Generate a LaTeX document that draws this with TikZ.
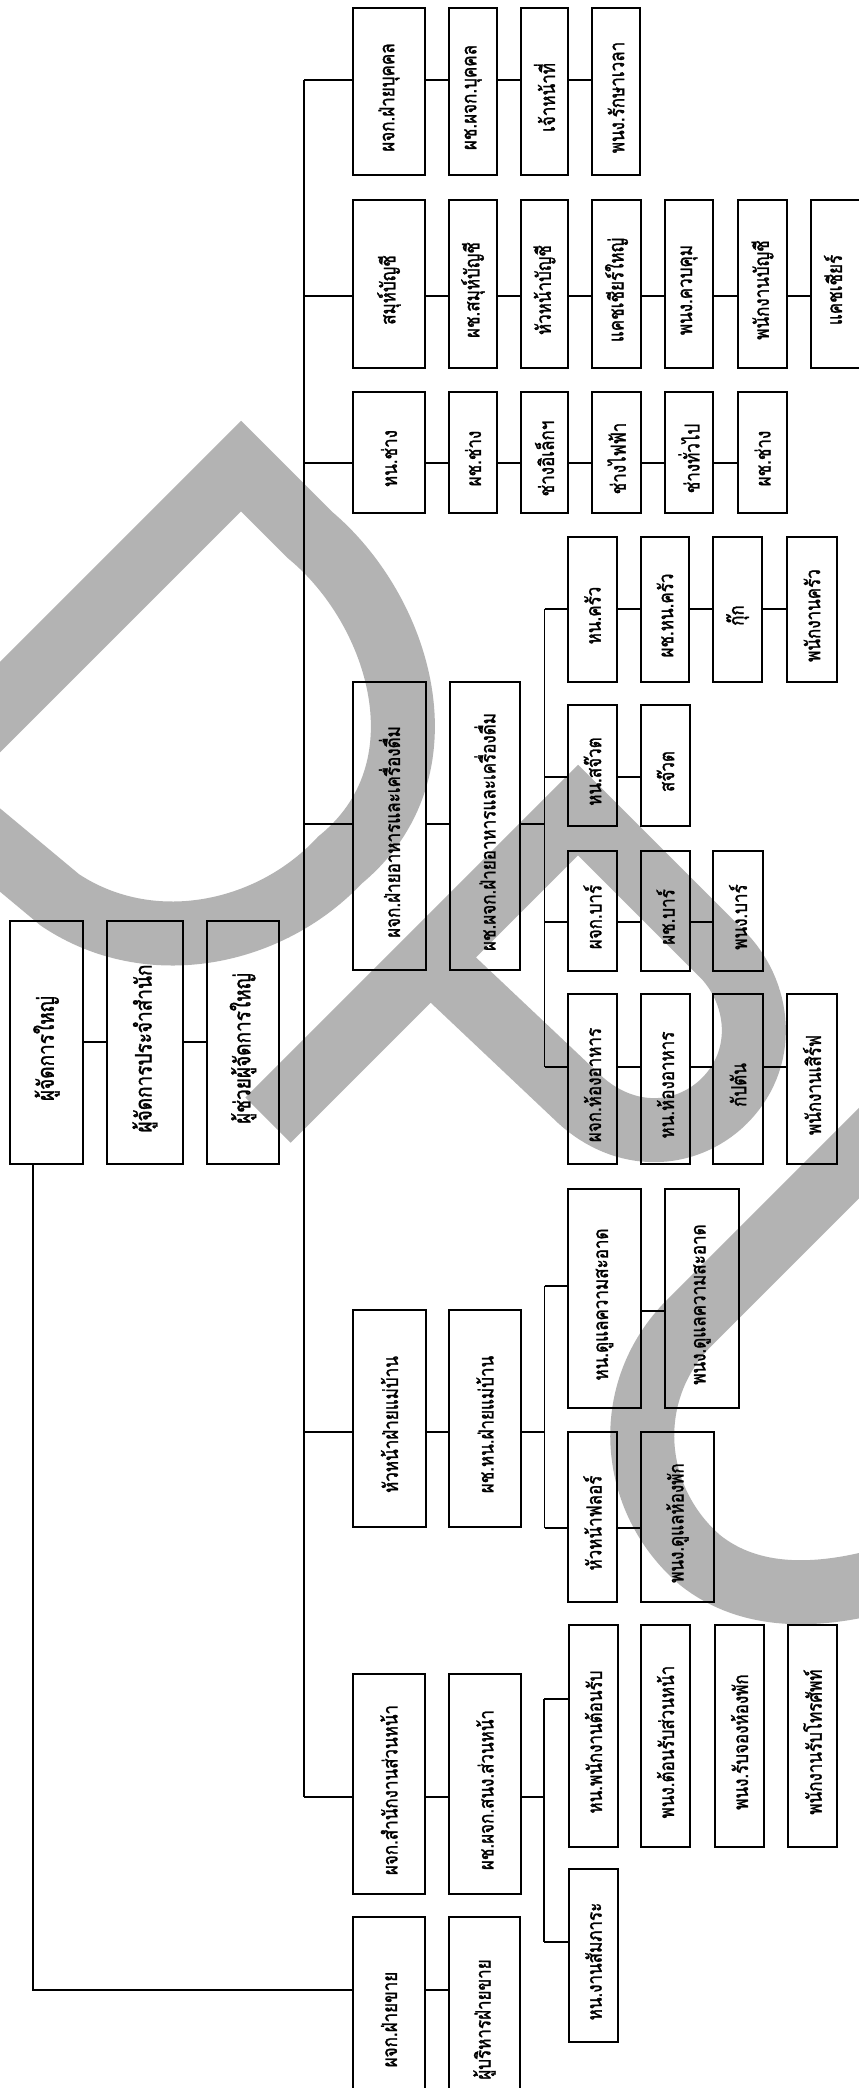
\documentclass[tikz,border=0pt]{standalone}
\usepackage{fontspec}
\usepackage{graphicx}
\newfontfamily\thaifont[Script=Thai,FakeBold=1.6]{Loma}
\definecolor{wmgray}{RGB}{179,179,179}
\newcommand\vtext[1]{\rotatebox{90}{\scalebox{1}[1.2]{#1}\hspace*{12pt}}}
\newcommand\mybox[7][]{%
  \pgfmathsetmacro\bw{#4-#3}\pgfmathsetmacro\bh{#6-#5}%
  \pgfmathsetmacro\bcx{(#3+#4)/2}\pgfmathsetmacro\bcy{(#5+#6)/2}%
  \node[box,#1,minimum width=\bw pt,minimum height=\bh pt] (#2) at (\bcx,\bcy) {\vtext{#7}};}
\newcommand\hc[3]{\draw[conn] (#1.east |- 0,#3) -- (#2.west |- 0,#3);}
\tikzset{
  box/.style={draw, line width=1.9pt, inner sep=0pt, align=center,
    font=\thaifont\fontsize{17}{17}\selectfont},
  big/.style={font=\thaifont\fontsize{19}{19}\selectfont},
  conn/.style={line width=1.8pt},
  wm/.style={draw=wmgray, line width=64pt, line join=miter, line cap=butt}
}
\begin{document}
\begin{tikzpicture}[x=1pt,y=-1pt]
\path[use as bounding box, fill=white] (0,0) rectangle (859,2088);
% watermark
\draw[wm] (-100,807) -- (241,466) -- (310,535) .. controls (400,610) and (450,770) .. (340,860) .. controls (270,935) and (150,960) .. (60,900) -- (-60,800);
\draw[wm] (268,1120) -- (578,810) -- (720,952) .. controls (760,990) and (770,1060) .. (720,1105) .. controls (680,1140) and (620,1140) .. (575,1095) -- (430,958);
\draw[wm] (900,1112) -- (690,1322) .. controls (620,1392) and (630,1500) .. (700,1560) .. controls (750,1600) and (820,1600) .. (900,1575);
% top level
\mybox[big]{gm}{10}{83}{921}{1164}{ผู้จัดการใหญ่}
\mybox[big]{rm}{107}{183}{921}{1164}{ผู้จัดการประจำสำนัก}
\mybox[big]{agm}{207}{279}{921}{1164}{ผู้ช่วยผู้จัดการใหญ่}
\hc{gm}{rm}{1042}\hc{rm}{agm}{1042}
% personnel
\mybox{p1}{353}{425}{8}{175}{ผจก.ฝ่ายบุคคล}
\mybox{p2}{449}{497}{8}{175}{ผช.ผจก.บุคคล}
\mybox{p3}{521}{568}{8}{175}{เจ้าหน้าที่}
\mybox{p4}{592}{640}{8}{175}{พนง.รักษาเวลา}
\hc{p1}{p2}{80}\hc{p2}{p3}{80}\hc{p3}{p4}{80}
% accounting
\mybox{a1}{353}{425}{200}{368}{สมุห์บัญชี}
\mybox{a2}{449}{497}{200}{368}{ผช.สมุห์บัญชี}
\mybox{a3}{521}{568}{200}{368}{หัวหน้าบัญชี}
\mybox{a4}{592}{641}{200}{368}{แคชเชียร์ใหญ่}
\mybox{a5}{665}{713}{200}{368}{พนง.ควบคุม}
\mybox{a6}{738}{787}{200}{368}{พนักงานบัญชี}
\pgfmathsetmacro\bw{74}\pgfmathsetmacro\bh{168}
\node[box,minimum width=\bw pt,minimum height=\bh pt] (a7) at (848,284) {\vtext{แคชเชียร์}\hspace*{30pt}};
\hc{a1}{a2}{296}\hc{a2}{a3}{296}\hc{a3}{a4}{296}\hc{a4}{a5}{296}\hc{a5}{a6}{296}\hc{a6}{a7}{296}
% maintenance
\mybox{m1}{353}{425}{392}{513}{หน.ช่าง}
\mybox{m2}{449}{497}{392}{513}{ผช.ช่าง}
\mybox{m3}{521}{568}{392}{513}{ช่างอิเล็กฯ}
\mybox{m4}{592}{641}{392}{513}{ช่างไฟฟ้า}
\mybox{m5}{665}{713}{392}{513}{ช่างทั่วไป}
\mybox{m6}{738}{787}{392}{513}{ผช.ช่าง}
\hc{m1}{m2}{463}\hc{m2}{m3}{463}\hc{m3}{m4}{463}\hc{m4}{m5}{463}\hc{m5}{m6}{463}
% food and beverage
\mybox{f1}{353}{426}{682}{970}{ผจก.ฝ่ายอาหารและเครื่องดื่ม}
\mybox{f2}{450}{520}{682}{970}{ผช.ผจก.ฝ่ายอาหารและเครื่องดื่ม}
\hc{f1}{f2}{824}
\mybox{k1}{568}{617}{537}{682}{หน.ครัว}
\mybox{k2}{641}{689}{537}{682}{ผช.หน.ครัว}
\mybox{k3}{713}{762}{537}{682}{กุ๊ก}
\mybox{k4}{787}{837}{537}{682}{พนักงานครัว}
\hc{k1}{k2}{609}\hc{k2}{k3}{609}\hc{k3}{k4}{609}
\mybox{s1}{568}{617}{705}{826}{หน.สจ๊วต}
\mybox{s2}{641}{690}{705}{826}{สจ๊วต}
\hc{s1}{s2}{777}
\mybox{b1}{568}{617}{851}{971}{ผจก.บาร์}
\mybox{b2}{641}{690}{851}{971}{ผช.บาร์}
\mybox{b3}{713}{763}{851}{971}{พนง.บาร์}
\hc{b1}{b2}{922}\hc{b2}{b3}{922}
\mybox{r1}{568}{617}{994}{1164}{ผจก.ห้องอาหาร}
\mybox{r2}{641}{690}{994}{1164}{หน.ห้องอาหาร}
\mybox{r3}{713}{763}{994}{1164}{กัปตัน}
\mybox{r4}{787}{837}{994}{1164}{พนักงานเสิร์ฟ}
\hc{r1}{r2}{1067}\hc{r2}{r3}{1067}\hc{r3}{r4}{1067}
\coordinate (fbT) at (544.5,609);
\coordinate (fbB) at (544.5,1067);
\draw[conn] (fbT) -- (fbB);
\draw[conn] (f2.east |- 0,824) -- (fbT |- 0,824);
\draw[conn] (fbT) -- (k1.west |- fbT);
\draw[conn] (fbT |- 0,777) -- (s1.west |- 0,777);
\draw[conn] (fbT |- 0,922) -- (b1.west |- 0,922);
\draw[conn] (fbB) -- (r1.west |- fbB);
% housekeeping
\mybox{h1}{353}{426}{1310}{1527}{หัวหน้าฝ่ายแม่บ้าน}
\mybox{h2}{449}{521}{1310}{1527}{ผช.หน.ฝ่ายแม่บ้าน}
\hc{h1}{h2}{1432}
\mybox{h3}{568}{641}{1189}{1408}{หน.ดูแลความสะอาด}
\mybox{h4}{665}{739}{1189}{1408}{พนง.ดูแลความสะอาด}
\hc{h3}{h4}{1311}
\mybox{h5}{568}{617}{1432}{1602}{หัวหน้าฟลอร์}
\mybox{h6}{641}{714}{1432}{1602}{พนง.ดูแลห้องพัก}
\hc{h5}{h6}{1528}
\coordinate (hkT) at (544.5,1286);
\coordinate (hkB) at (544.5,1528);
\draw[conn] (hkT) -- (hkB);
\draw[conn] (h2.east |- 0,1432) -- (hkT |- 0,1432);
\draw[conn] (hkT) -- (h3.west |- hkT);
\draw[conn] (hkB) -- (h5.west |- hkB);
% front office
\mybox{fo1}{353}{425}{1674}{1894}{ผจก.สำนักงานส่วนหน้า}
\mybox{fo2}{449}{521}{1674}{1894}{ผช.ผจก.สนง.ส่วนหน้า}
\hc{fo1}{fo2}{1797}
\mybox{fo3}{569}{618}{1625}{1847}{หน.พนักงานต้อนรับ}
\mybox{fo4}{641}{690}{1625}{1847}{พนง.ต้อนรับส่วนหน้า}
\mybox{fo5}{715}{764}{1625}{1847}{พนง.รับจองห้องพัก}
\mybox{fo6}{788}{837}{1625}{1847}{พนักงานรับโทรศัพท์}
\mybox{fo7}{569}{618}{1869}{2042}{หน.งานสัมภาระ}
\coordinate (foT) at (544,1699);
\coordinate (foB) at (544,1942);
\draw[conn] (foT) -- (foB);
\draw[conn] (fo2.east |- 0,1797) -- (foT |- 0,1797);
\draw[conn] (foT) -- (fo3.west |- foT);
\draw[conn] (foB) -- (fo7.west |- foB);
% sales
\mybox{sa1}{353}{425}{1917}{2110}{ผจก.ฝ่ายขาย}
\mybox{sa2}{449}{520}{1917}{2110}{ผู้บริหารฝ่ายขาย}
\hc{sa1}{sa2}{1990}
% main trunk
\coordinate (tt) at (304,80);
\coordinate (tb) at (304,1797);
\draw[conn] (tt) -- (tb);
\draw[conn] (tt) -- (p1.west |- tt);
\draw[conn] (tt |- 0,296) -- (a1.west |- 0,296);
\draw[conn] (tt |- 0,463) -- (m1.west |- 0,463);
\draw[conn] (tt |- 0,824) -- (f1.west |- 0,824);
\draw[conn] (tt |- 0,1432) -- (h1.west |- 0,1432);
\draw[conn] (tb) -- (fo1.west |- tb);
% left trunk
\coordinate (lt) at (33,1990);
\draw[conn] (gm.south -| lt) -- (lt) -- (sa1.west |- lt);
\end{tikzpicture}
\end{document}
